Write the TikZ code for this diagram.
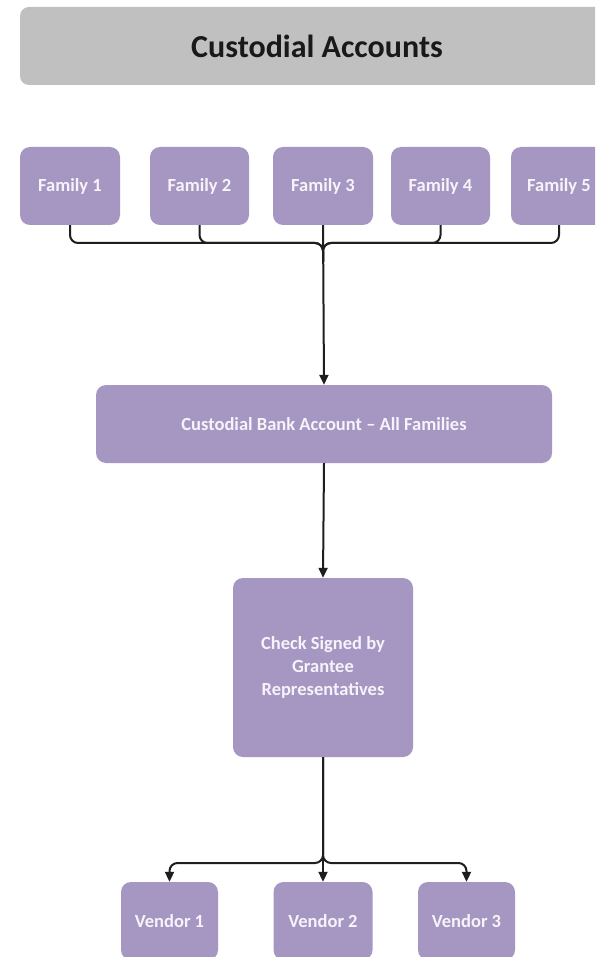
\documentclass[tikz,border=0pt]{standalone}
\usepackage{fontspec}
\setmainfont{Carlito}
\usetikzlibrary{arrows.meta}
\definecolor{boxpurple}{RGB}{166,151,194}
\definecolor{titlegray}{RGB}{192,192,192}
\definecolor{linegray}{RGB}{30,30,30}
\definecolor{boxtext}{RGB}{246,243,250}
\tikzset{
  pbox/.style={draw=none, fill=boxpurple, rounded corners=10pt, inner sep=0pt,
    text=boxtext, font=\fontsize{18.5}{23}\selectfont\bfseries, align=center},
  conn/.style={draw=linegray, line width=2pt},
  arr/.style={conn, -{Triangle[length=10pt,width=9pt]}}
}
\begin{document}
\begin{tikzpicture}[x=1pt,y=-1pt]
\useasboundingbox (0,0) rectangle (595,957);
\clip (0,0) rectangle (595,957);
\fill[white] (0,0) rectangle (595,957);
% title
\node[draw=none, fill=titlegray, rounded corners=9pt, minimum width=594pt, minimum height=78pt,
  inner sep=0pt, font=\fontsize{32}{38}\selectfont\bfseries, text=black!90] (title) at (317,46) {Custodial Accounts};
% families
\node[pbox, minimum width=100pt, minimum height=78pt] (f1) at (70,186) {Family 1};
\node[pbox, minimum width=99pt, minimum height=78pt] (f2) at (199.5,186) {Family 2};
\node[pbox, minimum width=100pt, minimum height=78pt] (f3) at (323,186) {Family 3};
\node[pbox, minimum width=99pt, minimum height=78pt] (f4) at (440.5,186) {Family 4};
\node[pbox, minimum width=96pt, minimum height=78pt] (f5) at (559,186) {Family 5};
% bank
\node[pbox, minimum width=456pt, minimum height=78pt] (bank) at (324,424) {Custodial Bank Account -- All Families};
% check
\node[pbox, minimum width=180pt, minimum height=179pt] (check) at (323,667.5) {Check Signed by\\Grantee\\Representatives};
% vendors
\node[pbox, minimum width=97pt, minimum height=78pt] (v1) at (169.5,921) {Vendor 1};
\node[pbox, minimum width=99pt, minimum height=78pt] (v2) at (323,921) {Vendor 2};
\node[pbox, minimum width=97pt, minimum height=78pt] (v3) at (466.5,921) {Vendor 3};
% junctions
\coordinate (jt) at (323,243);
\coordinate (jtb) at (323,262);
\coordinate (jb) at (323,863);
% top bracket
\draw[conn, rounded corners=8pt] (f1.south) |- (jt) -- (jtb);
\draw[conn, rounded corners=8pt] (f2.south) |- (jt) -- (jtb);
\draw[conn, rounded corners=8pt] (f4.south) |- (jt) -- (jtb);
\draw[conn, rounded corners=8pt] (f5.south) |- (jt) -- (jtb);
\draw[arr] (f3.south) -- (bank.north);
% bank to check
\draw[arr] (bank.south) -- (check.north);
% check to vendors
\draw[arr, rounded corners=8pt] (check.south) -- (jb) -| (v1.north);
\draw[arr, rounded corners=8pt] (check.south) -- (jb) -| (v3.north);
\draw[arr] (check.south) -- (v2.north);
\end{tikzpicture}
\end{document}
